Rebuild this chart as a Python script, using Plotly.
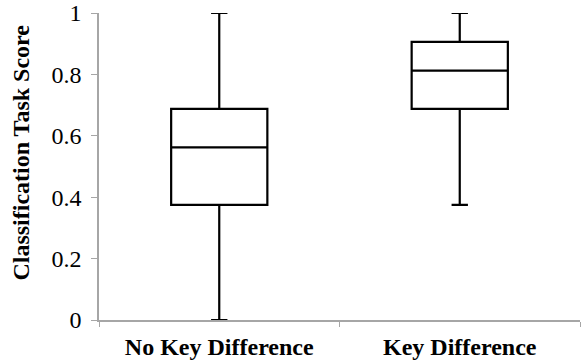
import plotly.graph_objects as go

categories = ["No Key Difference", "Key Difference"]
q1 = [0.375, 0.6875]
median = [0.5625, 0.8125]
q3 = [0.6875, 0.90625]
lower = [0.0, 0.375]
upper = [1.0, 1.0]
y_ticks = [0, 0.2, 0.4, 0.6, 0.8, 1]
y_ticklabels = ["0", "0.2", "0.4", "0.6", "0.8", "1"]
y_title = "Classification Task Score"

fig = go.Figure()
fig.add_trace(go.Box(
    x=categories, q1=q1, median=median, q3=q3,
    lowerfence=lower, upperfence=upper,
    width=0.4, whiskerwidth=0.17,
    fillcolor="white", line=dict(color="black", width=2.2),
    boxpoints=False, showlegend=False, hoverinfo="skip",
))

fig.update_layout(
    width=585, height=362,
    margin=dict(l=99, r=5, t=13, b=42, autoexpand=False),
    paper_bgcolor="white", plot_bgcolor="white",
    font=dict(family="Liberation Serif", color="black"),
)
fig.update_xaxes(
    range=[-0.5, 1.5], automargin=False,
    showline=True, linecolor="#a6a6a6", linewidth=1.5,
    ticks="outside", tickson="boundaries", ticklen=5, tickcolor="#a6a6a6",
    tickfont=dict(size=24, family="Liberation Serif", weight="bold"),
    ticklabelstandoff=4,
    showgrid=False, zeroline=False,
)
fig.update_yaxes(
    range=[0, 1], automargin=False, tickvals=y_ticks, ticktext=y_ticklabels,
    showline=True, linecolor="#a6a6a6", linewidth=1.5,
    ticks="outside", ticklen=6, tickcolor="#a6a6a6",
    tickfont=dict(size=24, family="Liberation Serif"),
    ticklabelstandoff=5,
    showgrid=False, zeroline=False,
)
fig.add_annotation(
    text=y_title, xref="paper", yref="paper",
    x=-0.164, y=0.5456, xanchor="center", yanchor="middle",
    textangle=-90, showarrow=False,
    font=dict(size=24, family="Liberation Serif", weight="bold", color="black"),
)

fig.write_html(
    "out.html",
    config={"displayModeBar": False},
    post_script="document.body.style.margin='0';document.body.style.overflow='hidden';",
)
